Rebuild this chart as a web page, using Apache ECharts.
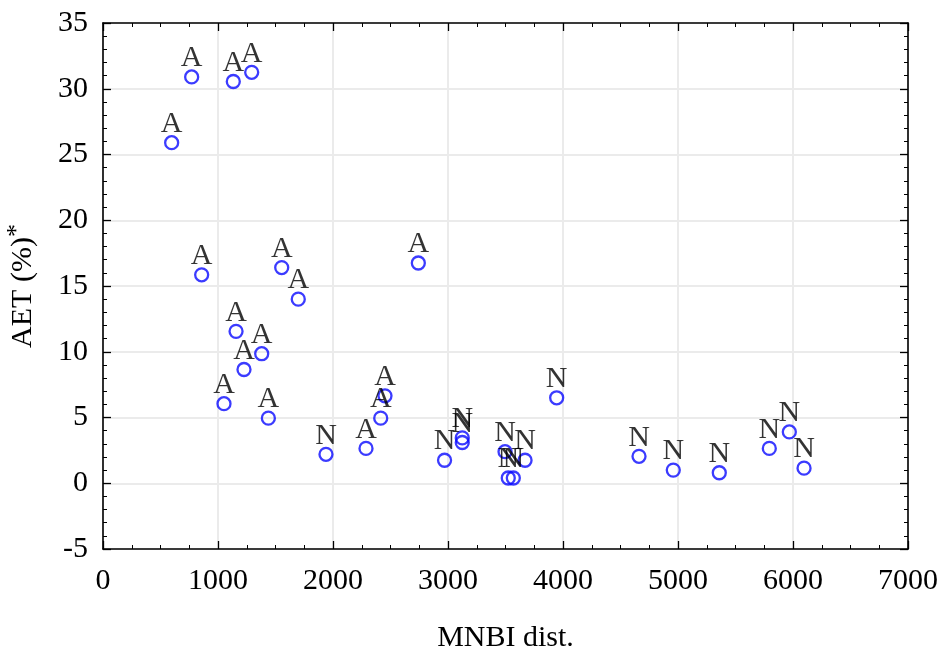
<!DOCTYPE html>
<html>
<head>
<meta charset="utf-8">
<script src="https://cdn.jsdelivr.net/npm/echarts@6/dist/echarts.min.js"></script>
<style>
html,body{margin:0;padding:0;background:#fff;}
#chart{width:945px;height:651px;}
</style>
</head>
<body>
<div id="chart"></div>
<script>
// Data
const groupA_x = [597, 771, 1133, 1293, 858, 1554, 1698, 2742, 1157, 1380, 1226, 1052, 1438, 2287, 2415, 2452];
const groupA_y = [25.9, 30.9, 30.55, 31.25, 15.85, 16.4, 14.0, 16.75, 11.55, 9.85, 8.65, 6.05, 4.95, 2.65, 4.95, 6.65];
const groupN_x = [1939, 2970, 3124, 3124, 3496, 3670, 3524, 3568, 3945, 4661, 4959, 5359, 5794, 5968, 6096];
const groupN_y = [2.2, 1.75, 3.45, 3.1, 2.4, 1.75, 0.4, 0.4, 6.5, 2.05, 1.0, 0.8, 2.65, 3.9, 1.15];
const groupNames = ['A', 'N'];
const xTicks = [0, 1000, 2000, 3000, 4000, 5000, 6000, 7000];
const yTicks = [-5, 0, 5, 10, 15, 20, 25, 30, 35];

const FONT = '"Liberation Serif", "Times New Roman", serif';

function pairs(xs, ys) { return xs.map((x, i) => [x, ys[i]]); }

const chart = echarts.init(document.getElementById('chart'), null, {renderer: 'canvas'});

const axisLineStyle = {show: true, onZero: false, lineStyle: {color: '#000', width: 1.6}};
const tickStyle = {show: true, inside: true, length: 8, lineStyle: {color: '#000', width: 1.3}};
const minorStyle = {show: true, length: 4, lineStyle: {color: '#000', width: 1}};

function makeSeries(name, xs, ys) {
  return {
    name: name,
    type: 'scatter',
    data: pairs(xs, ys),
    symbol: 'circle',
    symbolSize: 13,
    itemStyle: {color: 'rgba(0,0,0,0)', borderColor: '#0a0aff', borderWidth: 2.3},
    label: {
      show: true,
      position: 'top',
      distance: -4,
      formatter: name,
      color: '#000',
      fontFamily: FONT,
      fontSize: 30
    },
    emphasis: {disabled: true},
    z: 3
  };
}

chart.setOption({
  animation: false,
  backgroundColor: '#fff',
  grid: {left: 103, top: 23, right: 37, bottom: 102, containLabel: false, outerBoundsMode: 'none'},
  xAxis: [{
    type: 'value',
    min: xTicks[0], max: xTicks[xTicks.length - 1], interval: 1000,
    name: 'MNBI dist.', nameLocation: 'middle', nameGap: 74,
    nameTextStyle: {fontFamily: FONT, fontSize: 30, color: '#000'},
    axisLine: axisLineStyle,
    axisTick: tickStyle,
    minorTick: Object.assign({splitNumber: 4}, minorStyle),
    axisLabel: {fontFamily: FONT, fontSize: 30, color: '#000', margin: 17, formatter: v => String(v)},
    splitLine: {show: true, lineStyle: {color: '#ebebeb', width: 2}}
  }, {
    type: 'value', position: 'top',
    min: xTicks[0], max: xTicks[xTicks.length - 1], interval: 1000,
    axisLine: axisLineStyle,
    axisTick: tickStyle,
    minorTick: Object.assign({splitNumber: 4}, minorStyle),
    axisLabel: {show: false},
    splitLine: {show: false}
  }],
  yAxis: [{
    type: 'value',
    min: yTicks[0], max: yTicks[yTicks.length - 1], interval: 5,
    name: 'AET (%){sup|*}', nameLocation: 'middle', nameGap: 61,
    nameTextStyle: {fontFamily: FONT, fontSize: 30, color: '#000',
      rich: {sup: {fontFamily: FONT, fontSize: 26, color: '#000', verticalAlign: 'top', padding: [0, 0, 12, 0]}}},
    axisLine: axisLineStyle,
    axisTick: tickStyle,
    minorTick: Object.assign({splitNumber: 5}, minorStyle),
    axisLabel: {fontFamily: FONT, fontSize: 30, color: '#000', margin: 15},
    splitLine: {show: true, lineStyle: {color: '#ebebeb', width: 2}}
  }, {
    type: 'value', position: 'right',
    min: yTicks[0], max: yTicks[yTicks.length - 1], interval: 5,
    axisLine: axisLineStyle,
    axisTick: tickStyle,
    minorTick: Object.assign({splitNumber: 5}, minorStyle),
    axisLabel: {show: false},
    splitLine: {show: false}
  }],
  series: [
    makeSeries(groupNames[0], groupA_x, groupA_y),
    makeSeries(groupNames[1], groupN_x, groupN_y)
  ]
});
</script>
</body>
</html>
